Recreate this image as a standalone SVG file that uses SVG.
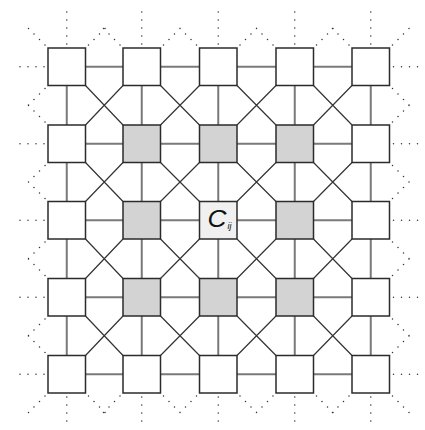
<svg xmlns="http://www.w3.org/2000/svg" width="425" height="430" viewBox="0 0 425 430">
<style>
.bg{fill:#fff}
.hv{fill:none;stroke:#7a7a7a;stroke-width:2}
.dg{fill:none;stroke:#333;stroke-width:1.2}
.dt{fill:none;stroke:#333;stroke-width:1.5;stroke-linecap:round;stroke-dasharray:0 8}
.dd{fill:none;stroke:#333;stroke-width:1.5;stroke-linecap:round;stroke-dasharray:0 7.78}
.sq{fill:#fff;stroke:#2b2b2b;stroke-width:1.5}
.g{fill:#d3d3d3}
.c{fill:#f0f0f0}
.lbl{font-family:"Liberation Sans",Arial,sans-serif;font-style:italic;fill:#111}
</style>
<rect class="bg" x="0" y="0" width="425" height="430"/>
<g id="connectors">
<path class="hv" d="M85.5 66.75H123M160.5 66.75H199.5M237 66.75H276M313.5 66.75H352
M85.5 143.75H123M160.5 143.75H199.5M237 143.75H276M313.5 143.75H352
M85.5 220.25H123M160.5 220.25H199.5M237 220.25H276M313.5 220.25H352
M85.5 297.25H123M160.5 297.25H199.5M237 297.25H276M313.5 297.25H352
M85.5 374.25H123M160.5 374.25H199.5M237 374.25H276M313.5 374.25H352"/>
<path class="hv" d="M66.75 85.5V125M66.75 162.5V201.5M66.75 239V278.5M66.75 316V355.5
M141.75 85.5V125M141.75 162.5V201.5M141.75 239V278.5M141.75 316V355.5
M218.25 85.5V125M218.25 162.5V201.5M218.25 239V278.5M218.25 316V355.5
M294.75 85.5V125M294.75 162.5V201.5M294.75 239V278.5M294.75 316V355.5
M370.75 85.5V125M370.75 162.5V201.5M370.75 239V278.5M370.75 316V355.5"/>
<path class="dg" d="M85.5 85.5L123 125M123 85.5L85.5 125M160.5 85.5L199.5 125M199.5 85.5L160.5 125M237 85.5L276 125M276 85.5L237 125M313.5 85.5L352 125M352 85.5L313.5 125
M85.5 162.5L123 201.5M123 162.5L85.5 201.5M160.5 162.5L199.5 201.5M199.5 162.5L160.5 201.5M237 162.5L276 201.5M276 162.5L237 201.5M313.5 162.5L352 201.5M352 162.5L313.5 201.5
M85.5 239L123 278.5M123 239L85.5 278.5M160.5 239L199.5 278.5M199.5 239L160.5 278.5M237 239L276 278.5M276 239L237 278.5M313.5 239L352 278.5M352 239L313.5 278.5
M85.5 316L123 355.5M123 316L85.5 355.5M160.5 316L199.5 355.5M199.5 316L160.5 355.5M237 316L276 355.5M276 316L237 355.5M313.5 316L352 355.5M352 316L313.5 355.5"/>
<path class="dt" d="M66.75 44V11M141.75 44V11M218.25 44V11M294.75 44V11M370.75 44V11
M66.75 397V429M141.75 397V429M218.25 397V429M294.75 397V429M370.75 397V429
M44 66.75H12M44 143.75H12M44 220.25H12M44 297.25H12M44 374.25H12
M393.5 66.75H424M393.5 143.75H424M393.5 220.25H424M393.5 297.25H424M393.5 374.25H424"/>
<path class="dd" d="M45 45l-22 -22M88.5 45l22 -22M120 45l-22 -22M163.5 45l22 -22M196.5 45l-22 -22M240 45l22 -22M273 45l-22 -22M316.5 45l22 -22M349 45l-22 -22M392.5 45l22 -22
M45 396l-22 22M88.5 396l22 22M120 396l-22 22M163.5 396l22 22M196.5 396l-22 22M240 396l22 22M273 396l-22 22M316.5 396l22 22M349 396l-22 22M392.5 396l22 22
M45 88.5l-22 22M45 122l-22 -22M45 165.5l-22 22M45 198.5l-22 -22M45 242l-22 22M45 275.5l-22 -22M45 319l-22 22M45 352.5l-22 -22
M392.5 88.5l22 22M392.5 122l22 -22M392.5 165.5l22 22M392.5 198.5l22 -22M392.5 242l22 22M392.5 275.5l22 -22M392.5 319l22 22M392.5 352.5l22 -22"/>
</g>
<g id="n00"><rect class="sq" x="48" y="48" width="37.5" height="37.5"/></g>
<g id="n01"><rect class="sq" x="123" y="48" width="37.5" height="37.5"/></g>
<g id="n02"><rect class="sq" x="199.5" y="48" width="37.5" height="37.5"/></g>
<g id="n03"><rect class="sq" x="276" y="48" width="37.5" height="37.5"/></g>
<g id="n04"><rect class="sq" x="352" y="48" width="37.5" height="37.5"/></g>
<g id="n10"><rect class="sq" x="48" y="125" width="37.5" height="37.5"/></g>
<g id="n11"><rect class="sq g" x="123" y="125" width="37.5" height="37.5"/></g>
<g id="n12"><rect class="sq g" x="199.5" y="125" width="37.5" height="37.5"/></g>
<g id="n13"><rect class="sq g" x="276" y="125" width="37.5" height="37.5"/></g>
<g id="n14"><rect class="sq" x="352" y="125" width="37.5" height="37.5"/></g>
<g id="n20"><rect class="sq" x="48" y="201.5" width="37.5" height="37.5"/></g>
<g id="n21"><rect class="sq g" x="123" y="201.5" width="37.5" height="37.5"/></g>
<g id="n22"><rect class="sq c" x="199.5" y="201.5" width="37.5" height="37.5"/><text class="lbl" x="207.5" y="227" font-size="23" textLength="19" lengthAdjust="spacingAndGlyphs">C</text><text class="lbl" x="227.5" y="228.5" font-size="9">ij</text></g>
<g id="n23"><rect class="sq g" x="276" y="201.5" width="37.5" height="37.5"/></g>
<g id="n24"><rect class="sq" x="352" y="201.5" width="37.5" height="37.5"/></g>
<g id="n30"><rect class="sq" x="48" y="278.5" width="37.5" height="37.5"/></g>
<g id="n31"><rect class="sq g" x="123" y="278.5" width="37.5" height="37.5"/></g>
<g id="n32"><rect class="sq g" x="199.5" y="278.5" width="37.5" height="37.5"/></g>
<g id="n33"><rect class="sq g" x="276" y="278.5" width="37.5" height="37.5"/></g>
<g id="n34"><rect class="sq" x="352" y="278.5" width="37.5" height="37.5"/></g>
<g id="n40"><rect class="sq" x="48" y="355.5" width="37.5" height="37.5"/></g>
<g id="n41"><rect class="sq" x="123" y="355.5" width="37.5" height="37.5"/></g>
<g id="n42"><rect class="sq" x="199.5" y="355.5" width="37.5" height="37.5"/></g>
<g id="n43"><rect class="sq" x="276" y="355.5" width="37.5" height="37.5"/></g>
<g id="n44"><rect class="sq" x="352" y="355.5" width="37.5" height="37.5"/></g>
</svg>
